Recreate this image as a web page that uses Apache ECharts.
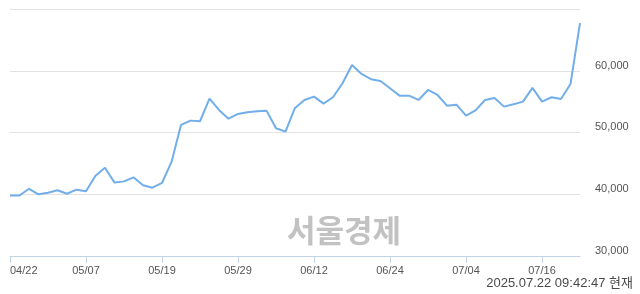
<!DOCTYPE html>
<html>
<head>
<meta charset="utf-8">
<script src="https://cdn.jsdelivr.net/npm/echarts@6/dist/echarts.min.js"></script>
<style>
html,body{margin:0;padding:0;background:#fff;}
#c{width:640px;height:294px;}
</style>
</head>
<body>
<div id="c"></div>
<script>
var dates = ['04/22','04/23','04/24','04/25','04/28','04/29','04/30','05/02','05/07','05/08',
  '05/09','05/12','05/13','05/14','05/15','05/16','05/19','05/20','05/21','05/22',
  '05/23','05/26','05/27','05/28','05/29','05/30','06/02','06/04','06/05','06/09',
  '06/10','06/11','06/12','06/13','06/16','06/17','06/18','06/19','06/20','06/23',
  '06/24','06/25','06/26','06/27','06/30','07/01','07/02','07/03','07/04','07/07',
  '07/08','07/09','07/10','07/11','07/14','07/15','07/16','07/17','07/18','07/21','07/22'];
var prices = [39800,39800,40900,40000,40270,40650,40100,40750,40490,43000,
  44300,41900,42100,42760,41460,41080,41840,45250,51250,51950,
  51850,55520,53680,52270,53030,53300,53470,53570,50710,50160,
  54000,55300,55840,54700,55740,58010,60980,59520,58660,58380,
  57190,56000,56000,55300,56920,56110,54380,54540,52760,53620,
  55300,55630,54220,54600,55030,57250,55030,55740,55460,57890,67750];
var yTicks = [30000,40000,50000,60000,70000];
var stamp = '2025.07.22 09:42:47 현재';
var watermark = '서울경제';

var chart = echarts.init(document.getElementById('c'), null, {renderer:'canvas'});
chart.setOption({
  animation:false,
  grid:{left:10,right:60,top:9.3,bottom:38},
  xAxis:{
    type:'category', data:dates, boundaryGap:false,
    axisLine:{lineStyle:{color:'#c5d3e8',width:1}},
    axisTick:{interval:7,length:7,lineStyle:{color:'#c5d3e8'}},
    axisLabel:{interval:7,margin:9,color:'#555',fontSize:11,fontFamily:'Liberation Sans',alignMinLabel:'left'},
    splitLine:{show:false}
  },
  yAxis:{
    type:'value', position:'right', min:yTicks[0], max:yTicks[yTicks.length-1], interval:10000,
    axisLine:{show:false}, axisTick:{show:false},
    splitLine:{lineStyle:{color:'#e2e2e2',width:1}},
    axisLabel:{margin:15,color:'#555',fontSize:11,fontFamily:'Liberation Sans',verticalAlign:'bottom',
      formatter:function(v){ if(v===70000) return ''; return v.toLocaleString('en-US'); }}
  },
  graphic:[
    {type:'text',left:287,top:215,z:0,style:{text:watermark,fill:'#c2c2c2',font:'bold 31px "Noto Sans CJK KR"'}},
    {type:'text',right:7,top:277,style:{text:stamp,fill:'#4a4a4a',font:'13px "Liberation Sans","Noto Sans CJK KR"'}}
  ],
  series:[{
    type:'line', data:prices, symbol:'none', z:5,
    lineStyle:{color:'#72aeea',width:2}
  }]
});
</script>
</body>
</html>
